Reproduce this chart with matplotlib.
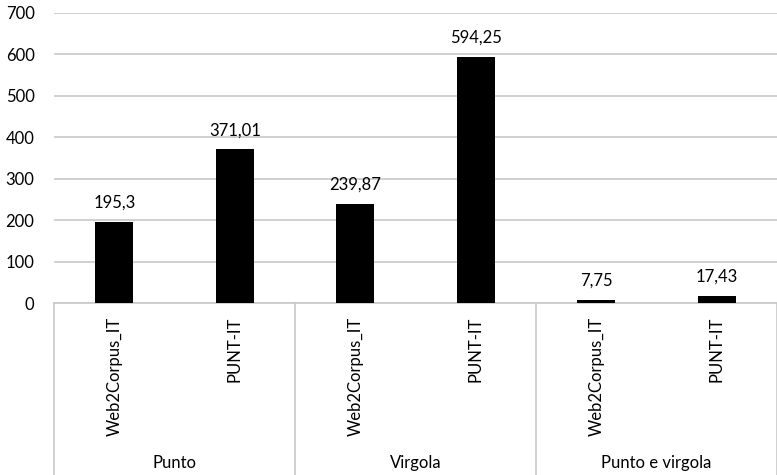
import matplotlib.pyplot as plt
import matplotlib.transforms as mtransforms

groups = ["Punto", "Virgola", "Punto e virgola"]
corpora = ["Web2Corpus_IT", "PUNT-IT"]
values = [195.3, 371.01, 239.87, 594.25, 7.75, 17.43]
value_labels = ["195,3", "371,01", "239,87", "594,25", "7,75", "17,43"]
yticks = [0, 100, 200, 300, 400, 500, 600, 700]

plt.rcParams["font.family"] = ["Lato", "DejaVu Sans"]
grid_col = "#c8c8c8"
fs = 12

fig = plt.figure(figsize=(7.77, 4.75), dpi=100)
W, H = 777, 475
ax = fig.add_axes([54 / W, (H - 303) / H, 1 - 54 / W, 290 / H])

x = list(range(len(values)))
ax.bar(x, values, width=0.315, color="black", zorder=3)
for xi, v, lab in zip(x, values, value_labels):
    ax.annotate(lab, (xi, v), xytext=(0, 8), textcoords="offset points",
                ha="center", va="bottom", fontsize=fs)

ax.set_xlim(-0.5, len(values) - 0.5)
ax.set_ylim(0, 700)
ax.set_yticks(yticks)
ax.tick_params(axis="y", length=0, labelsize=fs, pad=14)
ax.set_xticks([])
ax.yaxis.grid(True, color=grid_col, linewidth=1.2)
ax.set_axisbelow(True)
for s in ["top", "right", "left"]:
    ax.spines[s].set_visible(False)
ax.spines["bottom"].set_color(grid_col)
ax.spines["bottom"].set_linewidth(1.2)

trans = mtransforms.blended_transform_factory(ax.transData, ax.transAxes)
bottom = -172 / 290
for g in range(len(groups) + 1):
    xs = g * 2 - 0.5
    ax.plot([xs, xs], [0, bottom], transform=trans, color=grid_col,
            linewidth=1.2, clip_on=False)

for i in range(len(values)):
    ax.text(i, -14 / 290, corpora[i % 2], transform=trans, rotation=90,
            ha="center", va="top", fontsize=fs)

for g, name in enumerate(groups):
    ax.text(g * 2 + 0.5, -160 / 290, name, transform=trans,
            ha="center", va="center", fontsize=fs)

fig.savefig("out.png", dpi=100)
